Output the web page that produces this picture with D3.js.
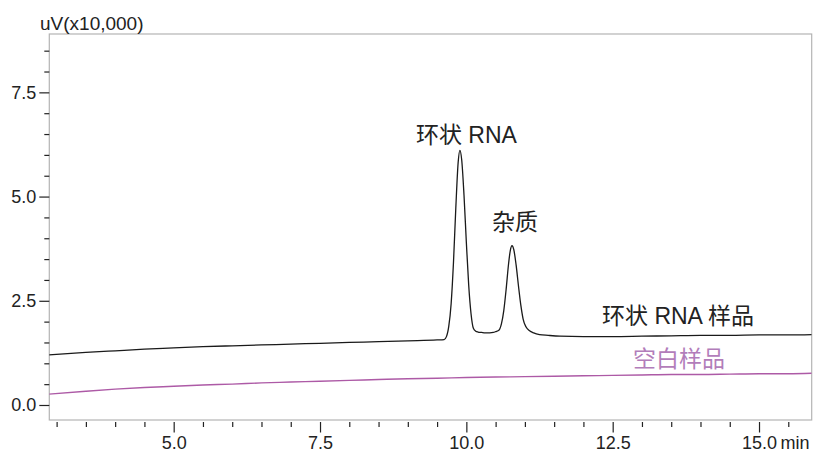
<!DOCTYPE html>
<html>
<head>
<meta charset="utf-8">
<script src="https://cdn.jsdelivr.net/npm/d3@7"></script>
<style>
  html, body { margin: 0; padding: 0; background: #fff; }
  svg { display: block; }
  text { font-family: "Liberation Sans", Arial, "Noto Sans CJK SC", sans-serif; }
</style>
</head>
<body>
<svg id="chart" width="815" height="454"></svg>
<script>
// ---- data ----
const sampleTime = [2.87, 3.5, 4.0, 4.5, 5.0, 5.5, 6.0, 6.5, 7.0, 7.5, 8.0, 8.5, 9.0, 9.5, 9.62,
  9.66, 9.70, 9.74, 9.78, 9.82, 9.86, 9.89, 9.92, 9.96, 10.00, 10.04, 10.08, 10.12, 10.16, 10.20,
  10.26, 10.32, 10.40, 10.46, 10.50, 10.56, 10.60, 10.64, 10.68, 10.72, 10.75, 10.78, 10.81, 10.85,
  10.89, 10.93, 10.97, 11.02, 11.08, 11.15, 11.25, 11.4, 11.6, 12.0, 12.5, 13.0, 13.5, 14.0, 14.5,
  15.0, 15.5, 15.9];
const sampleSignal = [1.20, 1.26, 1.30, 1.34, 1.37, 1.40, 1.42, 1.44, 1.46, 1.48, 1.50, 1.52, 1.54, 1.56, 1.57,
  1.64, 1.89, 2.43, 3.42, 4.73, 5.82, 6.11, 5.89, 5.03, 3.90, 2.88, 2.19, 1.84, 1.77, 1.75,
  1.74, 1.73, 1.73, 1.74, 1.76, 1.80, 1.95, 2.27, 2.78, 3.37, 3.70, 3.82, 3.73, 3.36,
  2.86, 2.40, 2.06, 1.87, 1.78, 1.73, 1.69, 1.67, 1.65, 1.64, 1.64, 1.65, 1.66, 1.67, 1.67,
  1.68, 1.68, 1.69];

const blankTime = [2.87, 3.5, 4.0, 4.5, 5.0, 5.5, 6.0, 6.5, 7.0, 7.5, 8.0, 8.5, 9.0, 9.5, 10.0,
  10.5, 11.0, 11.5, 12.0, 12.5, 13.0, 13.5, 14.0, 14.5, 15.0, 15.5, 15.9];
const blankSignal = [0.26, 0.33, 0.38, 0.42, 0.45, 0.48, 0.50, 0.53, 0.55, 0.57, 0.59, 0.61, 0.63, 0.64, 0.66,
  0.67, 0.68, 0.69, 0.70, 0.71, 0.72, 0.73, 0.73, 0.74, 0.75, 0.75, 0.76];

const xMajorTicks = [5.0, 7.5, 10.0, 12.5, 15.0];
const yMajorTicks = [0.0, 2.5, 5.0, 7.5];
const yAxisTitle = "uV(x10,000)";
const xUnit = "min";
const peakLabels = [
  { text: "环状 RNA", t: 9.89, v: 6.11 },
  { text: "杂质", t: 10.78, v: 3.82 }
];
const seriesLabels = ["环状 RNA 样品", "空白样品"];

// ---- layout ----
const svg = d3.select("#chart");
const pLeft = 49.3, pRight = 811.7, pTop = 34, pBottom = 420;
const x = d3.scaleLinear().domain([2.875, 15.9]).range([pLeft, pRight]);
const y = d3.scaleLinear().domain([-0.36, 8.9]).range([pBottom, pTop]);

const xMinor = d3.range(3.0, 15.9, 0.5).filter(v => !xMajorTicks.some(m => Math.abs(m - v) < 1e-6));
const yMinor = d3.range(0.5, 8.9, 0.5).filter(v => !yMajorTicks.some(m => Math.abs(m - v) < 1e-6));

// frame
svg.append("rect")
  .attr("x", pLeft).attr("y", pTop)
  .attr("width", pRight - pLeft).attr("height", pBottom - pTop)
  .attr("fill", "none").attr("stroke", "#b4b4b4").attr("stroke-width", 1.2);

// y axis
const yAxisMinor = svg.append("g").attr("transform", `translate(${pLeft},0)`)
  .call(d3.axisLeft(y).tickValues(yMinor).tickSize(5).tickFormat(""));
const yAxisMajor = svg.append("g").attr("transform", `translate(${pLeft},0)`)
  .call(d3.axisLeft(y).tickValues(yMajorTicks).tickSize(10).tickPadding(3).tickFormat(d3.format(".1f")));
[yAxisMinor, yAxisMajor].forEach(g => {
  g.select(".domain").remove();
  g.selectAll(".tick line").attr("stroke", "#222").attr("stroke-width", 1.2);
});
yAxisMajor.selectAll(".tick text")
  .attr("font-size", 18).attr("fill", "#222")
  .style("font-family", "'Liberation Sans', Arial, sans-serif");

// x axis
const xAxisMinor = svg.append("g").attr("transform", `translate(0,${pBottom + 2})`)
  .call(d3.axisBottom(x).tickValues(xMinor).tickSize(5).tickFormat(""));
const xAxisMajor = svg.append("g").attr("transform", `translate(0,${pBottom + 2})`)
  .call(d3.axisBottom(x).tickValues(xMajorTicks).tickSize(10.5).tickPadding(4).tickFormat(d3.format(".1f")));
[xAxisMinor, xAxisMajor].forEach(g => {
  g.select(".domain").remove();
  g.selectAll(".tick line").attr("stroke", "#222").attr("stroke-width", 1.2);
});
xAxisMajor.selectAll(".tick text")
  .attr("font-size", 18).attr("fill", "#222")
  .style("font-family", "'Liberation Sans', Arial, sans-serif");

// unit after last tick label
const lastLabel = xAxisMajor.selectAll(".tick text").filter(d => d === 15.0);
const lastW = lastLabel.node().getComputedTextLength();
svg.append("text")
  .attr("x", x(15.0) + lastW / 2 + 4)
  .attr("y", pBottom + 2 + 10.5 + 4)
  .attr("dy", "0.71em")
  .attr("font-size", 18).attr("fill", "#222")
  .text(xUnit);

// y title
svg.append("text")
  .attr("x", 40).attr("y", 30)
  .attr("font-size", 19).attr("fill", "#222")
  .text(yAxisTitle);

// lines
svg.append("clipPath").attr("id", "clip")
  .append("rect").attr("x", pLeft).attr("y", pTop).attr("width", pRight - pLeft).attr("height", pBottom - pTop);

const line = d3.line().x(d => x(d[0])).y(d => y(d[1])).curve(d3.curveMonotoneX);

svg.append("path")
  .datum(blankTime.map((t, i) => [t, blankSignal[i]]))
  .attr("clip-path", "url(#clip)")
  .attr("fill", "none").attr("stroke", "#ad5aa6").attr("stroke-width", 1.4)
  .attr("d", line);

svg.append("path")
  .datum(sampleTime.map((t, i) => [t, sampleSignal[i]]))
  .attr("clip-path", "url(#clip)")
  .attr("fill", "none").attr("stroke", "#1a1a1a").attr("stroke-width", 1.3)
  .attr("d", line);

// peak labels
const cjk = "'Liberation Sans', 'Noto Sans CJK SC', sans-serif";
const labelSize = 23;
svg.append("text")
  .attr("x", x(peakLabels[0].t) - 44).attr("y", y(peakLabels[0].v) - 7)
  .attr("font-size", labelSize).attr("fill", "#222").style("font-family", cjk)
  .text(peakLabels[0].text);
svg.append("text")
  .attr("x", x(peakLabels[1].t) - 20).attr("y", y(peakLabels[1].v) - 16)
  .attr("font-size", labelSize).attr("fill", "#222").style("font-family", cjk)
  .text(peakLabels[1].text);

// series labels
svg.append("text")
  .attr("x", 602).attr("y", 324)
  .attr("font-size", labelSize).attr("fill", "#222").style("font-family", cjk)
  .text(seriesLabels[0]);
svg.append("text")
  .attr("x", 633).attr("y", 367)
  .attr("font-size", labelSize).attr("fill", "#b27dba").style("font-family", cjk)
  .text(seriesLabels[1]);
</script>
</body>
</html>
